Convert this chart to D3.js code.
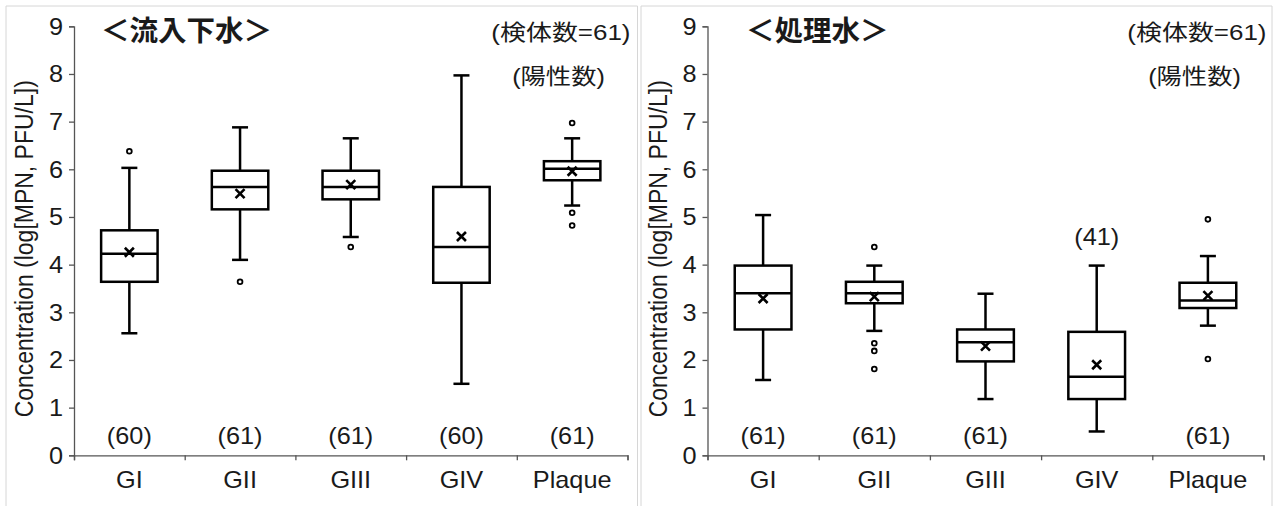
<!DOCTYPE html>
<html>
<head>
<meta charset="utf-8">
<script src="https://cdn.jsdelivr.net/npm/d3@7"></script>
<style>
  html, body { margin: 0; padding: 0; background: #fff; }
  svg { display: block; }
  text { font-family: "Liberation Sans", Arial, "Noto Sans CJK JP", sans-serif; fill: #1a1a1a; }
</style>
</head>
<body>
<svg id="chart" width="1274" height="506"></svg>
<script>
// Norovirus groups and plaque counts, log10 concentration box plots
const categories = ["GI", "GII", "GIII", "GIV", "Plaque"];
const yTicks = [0, 1, 2, 3, 4, 5, 6, 7, 8, 9];

// Influent sewage (流入下水)
const influentLow    = [2.56, 4.10, 4.58, 1.50, 5.24];
const influentQ1     = [3.64, 5.16, 5.37, 3.62, 5.77];
const influentMedian = [4.23, 5.63, 5.63, 4.37, 6.01];
const influentQ3     = [4.72, 5.97, 5.97, 5.63, 6.17];
const influentHigh   = [6.03, 6.88, 6.65, 7.97, 6.65];
const influentMean   = [4.26, 5.49, 5.68, 4.59, 5.96];
const influentOutliers = [[6.38], [3.64], [4.37], [], [6.97, 5.09, 4.82]];
const influentPositives = [60, 61, 61, 60, 61];

// Treated effluent (処理水)
const effluentLow    = [1.58, 2.61, 1.18, 0.50, 2.72];
const effluentQ1     = [2.64, 3.19, 1.97, 1.18, 3.09];
const effluentMedian = [3.40, 3.40, 2.37, 1.65, 3.25];
const effluentQ3     = [3.98, 3.64, 2.64, 2.59, 3.62];
const effluentHigh   = [5.04, 3.98, 3.39, 3.98, 4.18];
const effluentMean   = [3.29, 3.33, 2.29, 1.90, 3.35];
const effluentOutliers = [[], [4.37, 2.35, 2.19, 1.81], [], [], [4.95, 2.02]];
const effluentPositives = [61, 61, 61, 41, 61];

const sampleNote = "(検体数=61)";
const positiveNote = "(陽性数)";
const yTitle = "Concentration (log[MPN,  PFU/L])";

const panels = [
  { title: "＜流入下水＞", low: influentLow, q1: influentQ1, median: influentMedian, q3: influentQ3,
    high: influentHigh, mean: influentMean, outliers: influentOutliers, positives: influentPositives },
  { title: "＜処理水＞", low: effluentLow, q1: effluentQ1, median: effluentMedian, q3: effluentQ3,
    high: effluentHigh, mean: effluentMean, outliers: effluentOutliers, positives: effluentPositives }
];

// layout of the two side-by-side frames
const frames = [
  { x0: 6, x1: 637.5, axisLeft: 74, axisRight: 627.5, titleX: 101 },
  { x0: 641, x1: 1272, axisLeft: 707.5, axisRight: 1263.5, titleX: 746 }
];
const plotTop = 26.3, plotBottom = 455.3;
const stretch = 1.1;   // horizontal glyph stretch used for labels
const fs = 23;

const svg = d3.select("#chart");

function label(g, x, y, txt, opts) {
  const o = Object.assign({ size: fs, anchor: "middle", sx: stretch, weight: "normal", family: null }, opts || {});
  const t = g.append("text")
    .attr("transform", `translate(${x},${y}) scale(${o.sx},1)`)
    .attr("text-anchor", o.anchor)
    .style("font-size", o.size + "px")
    .style("font-weight", o.weight)
    .text(txt);
  if (o.family) t.style("font-family", o.family);
  return t;
}

panels.forEach((p, i) => {
  const f = frames[i];
  const g = svg.append("g");

  // frame border (open at the bottom edge of the page)
  g.append("path")
    .attr("d", `M${f.x0},${520}V6H${f.x1}V${520}`)
    .attr("fill", "none")
    .attr("stroke", "#d6d6d6")
    .attr("stroke-width", 1);

  const y = d3.scaleLinear().domain([0, 9]).range([plotBottom, plotTop]);
  const x = d3.scaleBand().domain(categories).range([f.axisLeft, f.axisRight]).padding(0);
  const xEdge = d3.scaleLinear().domain([0, categories.length]).range([f.axisLeft, f.axisRight]);
  const bw = x.bandwidth() * 0.51;
  const capW = 16;
  const cx = c => x(c) + x.bandwidth() / 2;

  // y axis
  const yAxis = g.append("g")
    .attr("transform", `translate(${f.axisLeft},0)`)
    .call(d3.axisLeft(y).tickValues(yTicks).tickFormat(d3.format("d")).tickSize(5).tickSizeOuter(5).tickPadding(6));
  yAxis.select(".domain").attr("stroke", "#555").attr("stroke-width", 1.3);
  yAxis.selectAll(".tick line").attr("stroke", "#555").attr("stroke-width", 1.3);
  yAxis.selectAll(".tick text").remove();
  yTicks.forEach(v => {
    label(g, f.axisLeft - 11, y(v) + 8.2, String(v), { anchor: "end" });
  });

  // x axis with ticks on category boundaries
  const xAxis = g.append("g")
    .attr("transform", `translate(0,${plotBottom})`)
    .call(d3.axisBottom(xEdge).tickValues(d3.range(categories.length + 1)).tickFormat("").tickSize(5).tickSizeOuter(5));
  xAxis.select(".domain").attr("stroke", "#555").attr("stroke-width", 1.3);
  xAxis.selectAll(".tick line").attr("stroke", "#555").attr("stroke-width", 1.3);
  categories.forEach(c => label(g, cx(c), 488, c));

  // y axis title
  g.append("text")
    .attr("transform", `translate(${f.axisLeft - 41},${(plotTop + plotBottom) / 2 + 8}) rotate(-90) scale(1,${stretch})`)
    .attr("text-anchor", "middle")
    .style("font-size", "23px")
    .text(yTitle);

  // panel title and notes
  label(g, f.titleX, 41, p.title, { anchor: "start", size: 28.5, sx: 1, weight: "bold", family: "'Noto Sans CJK JP', sans-serif" });
  label(g, f.axisRight + 3, 40, sampleNote, { anchor: "end", size: 22, sx: 1.18 });
  label(g, f.axisRight - 69, 84, positiveNote, { anchor: "middle", size: 22, sx: 1.15 });

  const boxes = g.append("g").attr("fill", "none").attr("stroke", "#000").attr("stroke-width", 2.5);

  categories.forEach((c, k) => {
    const xc = cx(c);
    // whiskers
    boxes.append("line").attr("x1", xc).attr("x2", xc).attr("y1", y(p.high[k])).attr("y2", y(p.q3[k]));
    boxes.append("line").attr("x1", xc).attr("x2", xc).attr("y1", y(p.q1[k])).attr("y2", y(p.low[k]));
    boxes.append("line").attr("x1", xc - capW / 2).attr("x2", xc + capW / 2).attr("y1", y(p.high[k])).attr("y2", y(p.high[k]));
    boxes.append("line").attr("x1", xc - capW / 2).attr("x2", xc + capW / 2).attr("y1", y(p.low[k])).attr("y2", y(p.low[k]));
    // box and median
    boxes.append("rect")
      .attr("x", xc - bw / 2).attr("width", bw)
      .attr("y", y(p.q3[k])).attr("height", y(p.q1[k]) - y(p.q3[k]))
      .attr("fill", "#fff");
    boxes.append("line").attr("x1", xc - bw / 2).attr("x2", xc + bw / 2)
      .attr("y1", y(p.median[k])).attr("y2", y(p.median[k]));
    // mean marker
    const my = y(p.mean[k]), s = 4.5;
    boxes.append("path")
      .attr("d", `M${xc - s},${my - s}L${xc + s},${my + s}M${xc - s},${my + s}L${xc + s},${my - s}`)
      .attr("stroke-width", 2.6);
    // outliers
    p.outliers[k].forEach(v => {
      boxes.append("circle").attr("cx", xc).attr("cy", y(v)).attr("r", 2.4)
        .attr("fill", "#fff").attr("stroke-width", 1.8);
    });
    // number of positive samples; lifted above the whisker when it reaches the label row
    const lowLabel = p.low[k] < 1.0;
    const ly = lowLabel ? y(p.high[k]) - 21 : plotBottom - 11;
    label(g, xc, ly, `(${p.positives[k]})`);
  });
});
</script>
</body>
</html>
